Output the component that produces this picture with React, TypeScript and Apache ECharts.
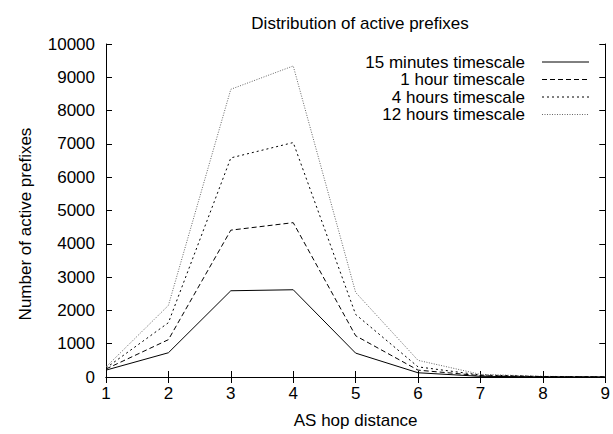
import React, { useEffect, useRef } from "react";
import * as echarts from "echarts";

const hops = [1, 2, 3, 4, 5, 6, 7, 8, 9];
const seriesNames = [
  "15 minutes timescale",
  "1 hour timescale",
  "4 hours timescale",
  "12 hours timescale",
];
const min15 = [206, 728, 2590, 2620, 717, 127, 20, 5, 2];
const hour1 = [240, 1121, 4410, 4635, 1239, 206, 40, 10, 3];
const hour4 = [270, 1631, 6580, 7040, 1879, 304, 60, 15, 4];
const hour12 = [300, 2150, 8640, 9340, 2540, 500, 80, 20, 5];
const yTicks = [0, 1000, 2000, 3000, 4000, 5000, 6000, 7000, 8000, 9000, 10000];
const yAxisTitle = "Number of active prefixes";

const FONT = "'Liberation Sans', Arial, Helvetica, sans-serif";
const FS = 17;

const styles = [
  { color: "#000", type: "solid" as any, width: 1 },
  { color: "#000", type: [5, 3] as any, width: 1 },
  { color: "#000", type: [2, 3] as any, width: 1 },
  { color: "#666", type: [1, 1.5] as any, width: 1 },
];

export default function App() {
  const ref = useRef<HTMLDivElement>(null);
  useEffect(() => {
    if (!ref.current) return;
    const chart = echarts.init(ref.current, undefined, { renderer: "svg" });
    const allData = [min15, hour1, hour4, hour12];
    const legendRowY = [62, 79.5, 97, 114.5];
    const legendGraphics: any[] = [];
    seriesNames.forEach((n, i) => {
      legendGraphics.push({
        type: "text",
        x: 525,
        y: legendRowY[i],
        style: {
          text: n,
          align: "right",
          verticalAlign: "middle",
          fontSize: FS,
          fontFamily: FONT,
          fill: "#000",
        },
      });
      legendGraphics.push({
        type: "line",
        shape: { x1: 542, y1: legendRowY[i], x2: 589, y2: legendRowY[i] },
        style: {
          stroke: styles[i].color,
          lineWidth: 1,
          lineDash: styles[i].type === "solid" ? null : styles[i].type,
        },
      });
    });
    legendGraphics.push({
      type: "text",
      x: 25,
      y: 224,
      rotation: Math.PI / 2,
      style: {
        text: yAxisTitle,
        align: "center",
        verticalAlign: "middle",
        fontSize: FS,
        fontFamily: FONT,
        fill: "#000",
      },
    });
    chart.setOption({
      animation: false,
      backgroundColor: "#fff",
      textStyle: { fontFamily: FONT },
      title: {
        text: "Distribution of active prefixes",
        left: 355,
        top: 10,
        textAlign: "center",
        textStyle: { fontSize: FS, fontWeight: "normal", color: "#000", fontFamily: FONT },
      },
      grid: { left: 106, right: 3, top: 44, bottom: 52, containLabel: false },
      xAxis: [
        {
          type: "value",
          min: hops[0],
          max: hops[hops.length - 1],
          interval: 1,
          name: "AS hop distance",
          nameLocation: "middle",
          nameGap: 35,
          nameTextStyle: { fontSize: FS, color: "#000", fontFamily: FONT },
          axisLine: { show: true, lineStyle: { color: "#000", width: 1 } },
          axisTick: { show: true, inside: true, length: 6, lineStyle: { color: "#000" } },
          axisLabel: { fontSize: FS, color: "#000", margin: 8, fontFamily: FONT },
          splitLine: { show: false },
        },
        {
          type: "value",
          position: "top",
          min: hops[0],
          max: hops[hops.length - 1],
          interval: 1,
          axisLine: { show: true, lineStyle: { color: "#000", width: 1 } },
          axisTick: { show: true, inside: true, length: 6, lineStyle: { color: "#000" } },
          axisLabel: { show: false },
          splitLine: { show: false },
        },
      ],
      yAxis: [
        {
          type: "value",
          min: yTicks[0],
          max: yTicks[yTicks.length - 1],
          interval: 1000,
          axisLine: { show: true, lineStyle: { color: "#000", width: 1 } },
          axisTick: { show: true, inside: true, length: 6, lineStyle: { color: "#000" } },
          axisLabel: {
            fontSize: FS,
            color: "#000",
            margin: 11,
            fontFamily: FONT,
            formatter: (v: number) => String(v),
          },
          splitLine: { show: false },
        },
        {
          type: "value",
          position: "right",
          min: yTicks[0],
          max: yTicks[yTicks.length - 1],
          interval: 1000,
          axisLine: { show: true, lineStyle: { color: "#000", width: 1 } },
          axisTick: { show: true, inside: true, length: 6, lineStyle: { color: "#000" } },
          axisLabel: { show: false },
          splitLine: { show: false },
        },
      ],
      series: seriesNames.map((n, i) => ({
        name: n,
        type: "line",
        xAxisIndex: 0,
        yAxisIndex: 0,
        symbol: "none",
        data: hops.map((h, j) => [h, allData[i][j]]),
        lineStyle: { color: styles[i].color, type: styles[i].type, width: styles[i].width },
        itemStyle: { color: styles[i].color },
        z: 10 - i,
      })),
      graphic: legendGraphics,
    });
    return () => chart.dispose();
  }, []);
  return (
    <div
      ref={ref}
      style={{ position: "fixed", left: 0, top: 0, width: 613, height: 434, background: "#fff" }}
    />
  );
}
